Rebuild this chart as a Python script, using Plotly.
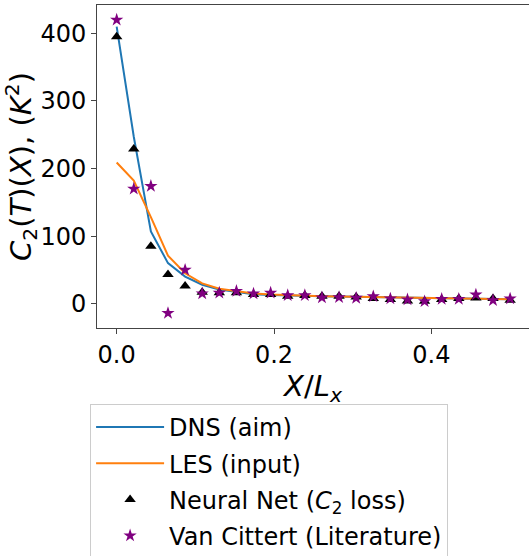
import plotly.graph_objects as go

# x positions: X / L_x
x_pos = [i * 0.5 / 23 for i in range(24)]

# DNS (aim) - blue line
dns_vals = [410, 247, 107, 60, 40, 28, 21, 17, 14, 13, 12, 11.5,
            11, 10.5, 10, 9.5, 9, 8.5, 8, 7.5, 7.3, 7, 6.8, 6.5]
# LES (input) - orange line
les_vals = [209, 182, 128, 71, 45, 30, 22, 18, 15, 13.5, 12.3, 11.5,
            11, 10.5, 10, 9.5, 9, 8.5, 8, 7.7, 7.4, 7.1, 6.9, 6.7]
# Neural Net (C2 loss) - black triangles
nn_vals = [395, 229, 85, 43, 26, 17, 16, 16, 13.7, 13.7, 11, 12,
           11, 11, 10, 7.5, 6, 4, 3.5, 6, 7.5, 8.5, 7.5, 5]
# Van Cittert (Literature) - purple stars
vc_vals = [420, 170, 174, -14, 50, 15, 16, 18.7, 14.8, 16, 12.3, 12.3,
           9, 9.4, 8.4, 10.8, 7.4, 6, 3.4, 6.8, 6.8, 13.3, 4.9, 7.4]

x_ticks = [0.0, 0.2, 0.4]
y_ticks = [0, 100, 200, 300, 400]

FONT = "DejaVu Sans, sans-serif"
AXIS_COLOR = "#444444"

fig = go.Figure()
fig.add_trace(go.Scatter(x=x_pos, y=dns_vals, mode="lines", name="DNS (aim)",
                         legendgroup="a", line=dict(color="#1f77b4", width=2)))
fig.add_trace(go.Scatter(x=x_pos, y=les_vals, mode="lines", name="LES (input)",
                         legendgroup="b", line=dict(color="#ff7f0e", width=2)))
fig.add_trace(go.Scatter(x=x_pos, y=nn_vals, mode="markers",
                         name="Neural Net (<i>C</i><sub>2</sub> loss)", legendgroup="c",
                         marker=dict(symbol="triangle-up", color="black", size=10)))
fig.add_trace(go.Scatter(x=x_pos, y=vc_vals, mode="markers",
                         name="Van Cittert (Literature)", legendgroup="d",
                         marker=dict(symbol="star", color="purple", size=10)))

fig.update_layout(
    width=529, height=556,
    paper_bgcolor="white", plot_bgcolor="white",
    font=dict(family=FONT, size=24, color="black"),
    margin=dict(l=97, r=0, t=5, b=228, autoexpand=False),
    legend=dict(
        x=-0.016, y=-0.235, xanchor="left", yanchor="top",
        bordercolor="#cccccc", borderwidth=1, bgcolor="white",
        font=dict(size=24), tracegroupgap=2, itemwidth=68,
    ),
)
fig.update_xaxes(
    range=[-0.025, 0.524], tickvals=x_ticks, tickformat=".1f",
    showline=True, linecolor=AXIS_COLOR, linewidth=1, mirror=True,
    ticks="outside", ticklen=5, tickcolor=AXIS_COLOR,
    showgrid=False, zeroline=False, automargin=False,
    title=dict(text="<i>X</i>/<i>L</i><sub><i>x</i></sub>", standoff=2),
)
fig.update_yaxes(
    range=[-36, 442], tickvals=y_ticks,
    showline=True, linecolor=AXIS_COLOR, linewidth=1,
    ticks="outside", ticklen=5, tickcolor=AXIS_COLOR,
    showgrid=False, zeroline=False, automargin=False,
    title=dict(text="<i>C</i><sub>2</sub>(<i>T</i>)(<i>X</i>), (<i>K</i><sup>2</sup>)", standoff=3),
)

# page body has a default 8px margin; drop it so the figure sits at the top-left corner
fig.write_html("out.html", config={"displayModeBar": False},
               post_script="document.body.style.margin = '0';")
